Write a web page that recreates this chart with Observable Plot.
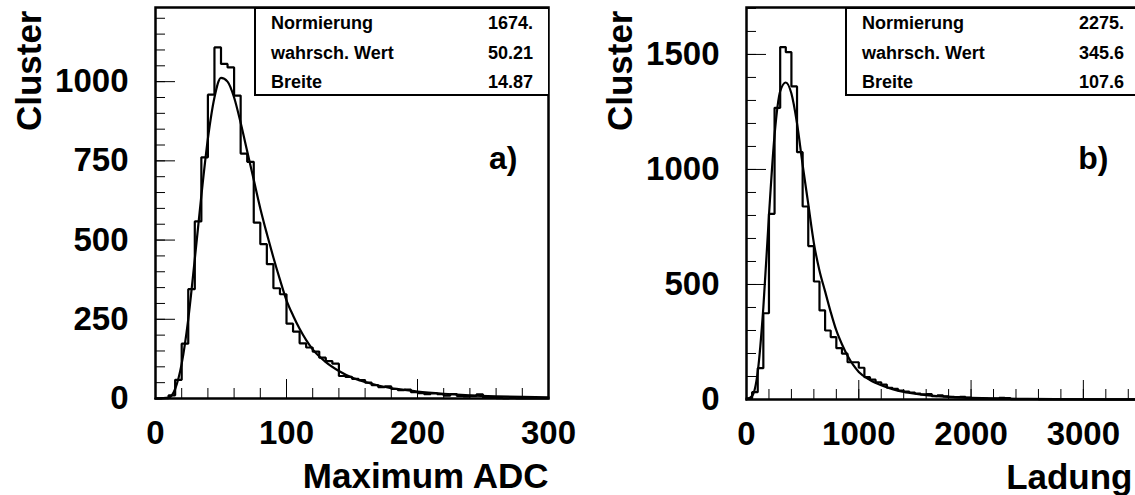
<!DOCTYPE html>
<html>
<head>
<meta charset="utf-8">
<script src="https://cdn.jsdelivr.net/npm/d3@7"></script>
<script src="https://cdn.jsdelivr.net/npm/@observablehq/plot@0.6"></script>
<style>
  html, body { margin: 0; padding: 0; background: #fff; overflow: hidden; }
  #wrap { position: relative; width: 1135px; height: 495px; overflow: hidden; background: #fff; }
  .panel { position: absolute; top: 0; width: 591px; height: 495px; }
  .panel svg { display: block; overflow: visible; }
  .stats { position: absolute; top: 7px; left: 254px; width: 294px; height: 89px; box-sizing: border-box;
    border: 2px solid #000; border-right: none; background: #fff;
    font-family: "Liberation Sans", Arial, Helvetica, sans-serif; font-weight: bold; font-size: 18px; color: #000; }
  .stats .row { display: flex; justify-content: space-between; line-height: 29.5px; height: 29.5px; padding: 0 15px 0 15px; }
</style>
</head>
<body>
<div id="wrap">
  <div class="panel" id="pa" style="left:0px"></div>
  <div class="panel" id="pb" style="left:591px"></div>
</div>
<script>
// ---------- Panel a) : Maximum ADC ----------
const binWidthA = 5;
const histA = [0,1,10,59,173,345,559,761,959,1108,1056,1045,956,773,747,555,487,424,348,329,
  236,211,174,161,148,129,118,110,71,68,62,58,50,42,36,38,30,26,28,20,
  17,14,16,14,9,14,8,7,8,13,3,2,1,0,1,0,0,0,0,0];
const fitAX = [0,10,15,20,25,30,35,40,45,50,55,60,65,70,75,80,85,90,95,100,105,110,120,130,140,150,160,170,180,190,200,220,240,260,280,300];
const fitAY = [0,3,30,110,250,440,640,820,950,1012,1000,950,870,780,690,600,520,445,375,310,262,220,155,115,87,66,52,41,33,27,22,15,10,7,5,4];
const yMajorA = [0,250,500,750,1000];
const yMinorA = d3.range(0, 1201, 50);
const xMajorA = [0,100,200,300];
const xMinorA = d3.range(0, 301, 20);
const statsA = [["Normierung","1674."],["wahrsch. Wert","50.21"],["Breite","14.87"]];

// ---------- Panel b) : Ladung ----------
const binWidthB = 50;
const histB = [5,32,136,375,807,1268,1532,1510,1361,1075,839,667,513,387,300,271,223,199,162,162,
  138,97,86,75,65,51,46,39,34,30,26,22,24,15,18,14,12,10,11,8,
  6,5,4,3,4,7,6,2,2,1,2,1,0,0,0,0,0,0,0,0,0,0,0,0,0,0,0,0,0,0];
const fitBX = [0,50,100,150,200,250,300,350,400,450,500,550,600,650,700,750,800,850,900,950,1000,1100,1200,1300,1400,1500,1600,1800,2000,2200,2500,3000,3500];
const fitBY = [0,15,120,400,800,1150,1340,1378,1330,1200,1020,850,680,560,470,380,300,240,190,150,120,85,62,45,33,25,19,11,7,4.5,2.5,1,0.5];
const yMajorB = [0,500,1000,1500];
const yMinorB = d3.range(0, 1701, 100);
const xMajorB = [0,1000,2000,3000];
const xMinorB = d3.range(0, 3501, 200);
const statsB = [["Normierung","2275."],["wahrsch. Wert","345.6"],["Breite","107.6"]];

const FONT = "'Liberation Sans', Arial, Helvetica, sans-serif";

function stepPoints(vals, w) {
  const pts = vals.map((v, i) => ({x: i * w, y: v}));
  pts.push({x: vals.length * w, y: vals[vals.length - 1]});
  return pts;
}

function panel(cfg) {
  const W = 591, H = 495, ML = 155, MR = 43, MT = 7, MB = cfg.mb;
  const fw = W - ML - MR, fh = H - MT - MB;
  const fmt = d => String(d);
  const hist = stepPoints(cfg.hist, cfg.bw);
  const fit = cfg.fitX.map((x, i) => ({x, y: cfg.fitY[i]}));
  return Plot.plot({
    width: W, height: H,
    marginLeft: ML, marginRight: MR, marginTop: MT, marginBottom: MB,
    x: {domain: cfg.xDomain},
    y: {domain: cfg.yDomain},
    style: {fontFamily: FONT, fontWeight: "bold", background: "white", color: "black", overflow: "visible"},
    marks: [
      Plot.tickY(cfg.yMinor, {y: d => d, stroke: "black", strokeWidth: 1, insetRight: fw - 10}),
      Plot.tickY(cfg.yMajor, {y: d => d, stroke: "black", strokeWidth: 1, insetRight: fw - 20}),
      Plot.tickX(cfg.xMinor, {x: d => d, stroke: "black", strokeWidth: 1, insetTop: fh - 10}),
      Plot.tickX(cfg.xMajor, {x: d => d, stroke: "black", strokeWidth: 1, insetTop: fh - 19}),
      Plot.axisY(cfg.yMajor, {tickSize: 0, tickPadding: 27, fontSize: 33, fontWeight: "bold", tickFormat: fmt, label: null}),
      Plot.axisX(cfg.xMajor, {tickSize: 0, tickPadding: 22, fontSize: 33, fontWeight: "bold", tickFormat: fmt, label: null}),
      Plot.line(hist, {x: "x", y: "y", curve: "step-after", stroke: "black", strokeWidth: 2.2, strokeLinejoin: "miter"}),
      Plot.line(fit, {x: "x", y: "y", curve: "monotone-x", stroke: "black", strokeWidth: 2.2}),
      Plot.frame({stroke: "black", strokeWidth: 2.5}),
      Plot.text(["Cluster"], {frameAnchor: "top-left", rotate: -90, textAnchor: "end", lineAnchor: "middle",
        dx: -126, dy: 3, fontSize: 35, fontWeight: "bold", fill: "black"}),
      Plot.text([cfg.xTitle], {frameAnchor: "bottom-right", textAnchor: "end", lineAnchor: "middle",
        dx: cfg.titleDx, dy: 78, fontSize: 35, fontWeight: "bold", fill: "black"}),
      Plot.text([cfg.tag], {frameAnchor: "top-right", textAnchor: "end", lineAnchor: "middle",
        dx: -31, dy: 151, fontSize: 32, fontWeight: "bold", fill: "black"})
    ]
  });
}

function statsBox(rows) {
  const div = document.createElement("div");
  div.className = "stats";
  for (const [k, v] of rows) {
    const r = document.createElement("div");
    r.className = "row";
    const a = document.createElement("span"); a.textContent = k;
    const b = document.createElement("span"); b.textContent = v;
    r.appendChild(a); r.appendChild(b);
    div.appendChild(r);
  }
  return div;
}

const pa = document.getElementById("pa");
pa.appendChild(panel({hist: histA, bw: binWidthA, fitX: fitAX, fitY: fitAY, xDomain: [0, 300], yDomain: [0, 1234],
  yMajor: yMajorA, yMinor: yMinorA, xMajor: xMajorA, xMinor: xMinorA, xTitle: "Maximum ADC", tag: "a)", mb: 97, titleDx: 0}));
pa.appendChild(statsBox(statsA));

const pb = document.getElementById("pb");
pb.appendChild(panel({hist: histB, bw: binWidthB, fitX: fitBX, fitY: fitBY, xDomain: [0, 3500], yDomain: [0, 1704],
  yMajor: yMajorB, yMinor: yMinorB, xMajor: xMajorB, xMinor: xMinorB, xTitle: "Ladung", tag: "b)", mb: 96, titleDx: -7}));
pb.appendChild(statsBox(statsB));
</script>
</body>
</html>
